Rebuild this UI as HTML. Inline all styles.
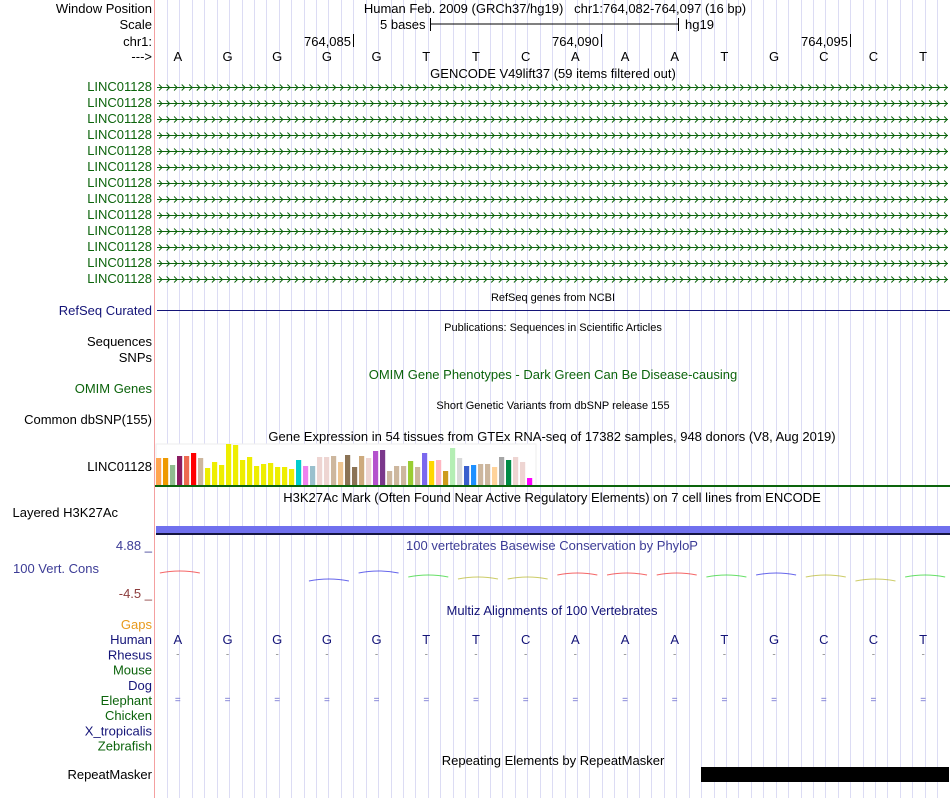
<!DOCTYPE html>
<html><head><meta charset="utf-8"><style>
body{margin:0;background:#fff;width:950px;height:798px;overflow:hidden;font-family:"Liberation Sans",sans-serif}
svg text{font-family:"Liberation Sans",sans-serif}
</style></head><body>
<svg id="s" width="950" height="798" xmlns="http://www.w3.org/2000/svg">
<g id="grid"></g>
<line x1="154.5" y1="0" x2="154.5" y2="798" stroke="#f4a0a0" stroke-width="1"/>
<g font-size="13" text-anchor="end" fill="#000">
<text x="152" y="13">Window Position</text>
<text x="152" y="29">Scale</text>
<text x="152" y="46">chr1:</text>
<text x="152" y="61">---&gt;</text>
</g>
<text x="555" y="13" font-size="13" text-anchor="middle">Human Feb. 2009 (GRCh37/hg19)&#160;&#160;&#160;chr1:764,082-764,097 (16 bp)</text>
<text x="380" y="29" font-size="13">5 bases</text>
<line x1="430" y1="24" x2="678" y2="24" stroke="#000"/>
<line x1="430.5" y1="18" x2="430.5" y2="31" stroke="#000"/>
<line x1="678.5" y1="18" x2="678.5" y2="31" stroke="#000"/>
<text x="685" y="29" font-size="13">hg19</text>
<g id="ruler" font-size="13" text-anchor="end"></g>
<g id="bases" font-size="13" text-anchor="middle"></g>
<text x="553" y="78" font-size="13" text-anchor="middle">GENCODE V49lift37 (59 items filtered out)</text>
<g id="genes"></g>
<text x="553" y="301" font-size="11" text-anchor="middle">RefSeq genes from NCBI</text>
<text x="152" y="315" font-size="13" text-anchor="end" fill="#141478">RefSeq Curated</text>
<line x1="157" y1="310.5" x2="950" y2="310.5" stroke="#141478"/>
<text x="553" y="331" font-size="11" text-anchor="middle">Publications: Sequences in Scientific Articles</text>
<text x="152" y="346" font-size="13" text-anchor="end">Sequences</text>
<text x="152" y="362" font-size="13" text-anchor="end">SNPs</text>
<text x="553" y="379" font-size="13" text-anchor="middle" fill="#0c640c">OMIM Gene Phenotypes - Dark Green Can Be Disease-causing</text>
<text x="152" y="393" font-size="13" text-anchor="end" fill="#0c640c">OMIM Genes</text>
<text x="553" y="409" font-size="11" text-anchor="middle">Short Genetic Variants from dbSNP release 155</text>
<text x="152" y="424" font-size="13" text-anchor="end">Common dbSNP(155)</text>
<text x="552" y="441" font-size="13" text-anchor="middle">Gene Expression in 54 tissues from GTEx RNA-seq of 17382 samples, 948 donors (V8, Aug 2019)</text>
<text x="152" y="471" font-size="13" text-anchor="end">LINC01128</text>
<rect x="156" y="444" width="380" height="42" fill="#fff" stroke="#eee"/>
<g id="gtex"></g>
<rect x="155" y="485" width="795" height="2" fill="#0c640c"/>
<text x="552" y="502" font-size="13" text-anchor="middle">H3K27Ac Mark (Often Found Near Active Regulatory Elements) on 7 cell lines from ENCODE</text>
<text x="118" y="517" font-size="13" text-anchor="end">Layered H3K27Ac</text>
<rect x="156" y="526" width="794" height="8" fill="#7070ee"/>
<rect x="156" y="533" width="794" height="2" fill="#141440"/>
<text x="552" y="550" font-size="13" text-anchor="middle" fill="#3c3c96">100 vertebrates Basewise Conservation by PhyloP</text>
<text x="152" y="550" font-size="13" text-anchor="end" fill="#3c3c96">4.88 _</text>
<text x="99" y="573" font-size="13" text-anchor="end" fill="#3c3c96">100 Vert. Cons</text>
<text x="152" y="598" font-size="13" text-anchor="end" fill="#8c3c3c">-4.5 _</text>
<g id="cons"></g>
<text x="552" y="615" font-size="13" text-anchor="middle" fill="#141478">Multiz Alignments of 100 Vertebrates</text>
<g id="species" font-size="13" text-anchor="end"></g>
<g id="align" font-size="13" text-anchor="middle"></g>
<text x="553" y="765" font-size="13" text-anchor="middle">Repeating Elements by RepeatMasker</text>
<text x="152" y="779" font-size="13" text-anchor="end">RepeatMasker</text>
<rect x="701" y="767" width="248" height="15" fill="#000"/>
</svg>
<script>
const NS="http://www.w3.org/2000/svg";
const bases=["A","G","G","G","G","T","T","C","A","A","A","T","G","C","C","T"];
const tickLabels=["764,085","764,090","764,095"];
const tickBaseIdx=[3,8,13];
const gtexValues=[27,27,20,29,29,32,27,17,23,20,41,40,25,28,19,21,22,18,18,16,25,19,19,28,28,29,23,30,18,29,27,34,35,14,19,19,24,18,32,24,25,14,37,27,19,20,21,21,18,28,25,28,23,7];
const gtexColors=["#ffa54f","#ee9a00","#8fbc8f","#8b1c62","#ee6a50","#ff0000","#cdb79e","#eeee00","#eeee00","#eeee00","#eeee00","#eeee00","#eeee00","#eeee00","#eeee00","#eeee00","#eeee00","#eeee00","#eeee00","#eeee00","#00cdcd","#ee82ee","#9ac0cd","#eed5d2","#eed5d2","#cdb79e","#eec591","#8b7355","#8b7355","#cdaa7d","#eed5d2","#b452cd","#7a378b","#cdb79e","#cdb79e","#cdb79e","#9acd32","#cdb79e","#7b68ee","#ffd700","#ffb6c1","#cd9b1d","#b4eeb4","#d9d9d9","#3a5fcd","#1e90ff","#cdb79e","#cdb79e","#ffd39b","#a6a6a6","#008b45","#eed5d2","#eed5d2","#ff00ff"];
const consColors=["#e00","","","#00d","#00d","#0c0","#aa0","#aa0","#e00","#e00","#e00","#0c0","#00d","#aa0","#aa0","#0c0"];
const consLevel=[2,0,0,-2,2,0,-1,-1,1,1,1,0,1,0,-2,0];
const species=["Gaps","Human","Rhesus","Mouse","Dog","Elephant","Chicken","X_tropicalis","Zebrafish"];
const speciesColors=["#e89a1c","#141478","#141478","#0c640c","#141478","#0c640c","#0c640c","#141478","#0c640c"];
const rowChar=["","B","-","","","=","","",""];
const x0=155,bw=795/bases.length;
function el(t,a,p){const e=document.createElementNS(NS,t);for(const k in a)e.setAttribute(k,a[k]);p.appendChild(e);return e;}
const grid=document.getElementById("grid");
for(let x=167;x<950;x+=bw/4){const l=el("line",{x1:Math.round(x)+.5,y1:0,x2:Math.round(x)+.5,y2:798,stroke:"#dcdcf4"},grid);

}
const ruler=document.getElementById("ruler");
tickLabels.forEach((t,i)=>{const x=Math.round(x0+bw*(tickBaseIdx[i]+1))-1;
const tx=el("text",{x:x-2,y:46},ruler);tx.textContent=t;


const l=el("line",{x1:x+.5,y1:34,x2:x+.5,y2:47,stroke:"#000"},ruler);

});
const bg=document.getElementById("bases"),al=document.getElementById("align"),sp=document.getElementById("species");
bases.forEach((b,i)=>{const t=el("text",{x:x0+bw*(i+.5)-2,y:61},bg);t.textContent=b;

});
const genes=document.getElementById("genes");
for(let r=0;r<13;r++){const y=87+16*r;
const t=el("text",{x:152,y:y+4,"font-size":13,"text-anchor":"end",fill:"#0c640c"},genes);t.textContent="LINC01128";


const l=el("line",{x1:157,y1:y+.5,x2:948,y2:y+.5,stroke:"#0c640c"},genes);


let d="";for(let x=159;x<945;x+=7.55){d+=`M${x.toFixed(1)} ${y-2.5} L${(x+3).toFixed(1)} ${y+.5} L${x.toFixed(1)} ${y+3.5} `;}
const c=el("path",{d:d,fill:"none",stroke:"#0c640c","stroke-width":1},genes);

}
const gx=document.getElementById("gtex"),base=485,pitch=7.0;
gtexValues.forEach((v,i)=>{const r=el("rect",{x:(156+i*pitch).toFixed(1),y:base-v,width:5.2,height:v,fill:gtexColors[i]},gx);

});
const cg=document.getElementById("cons");
consLevel.forEach((lv,i)=>{if(!consColors[i])return;const cx=x0+bw*(i+.5),y=576-lv*2;
const p=el("path",{d:`M${cx-20} ${y+1} Q${cx} ${y-3} ${cx+20} ${y+1}`,fill:"none",stroke:consColors[i],"stroke-width":1,"stroke-opacity":0.6},cg);

});
species.forEach((n,r)=>{const y=629+15.2*r;
const t=el("text",{x:152,y:y,fill:speciesColors[r]},sp);t.textContent=n;


if(rowChar[r]){bases.forEach((b,i)=>{const c=rowChar[r]==="B"?b:rowChar[r];
const a=el("text",{x:x0+bw*(i+.5)-2,y:y-(rowChar[r]==="B"?0:2),fill:rowChar[r]==="="?"#6a6acd":(rowChar[r]==="-"?"#888":"#141478"),"font-size":rowChar[r]==="B"?13:10},al);a.textContent=c;

});}});
</script>
</body></html>
